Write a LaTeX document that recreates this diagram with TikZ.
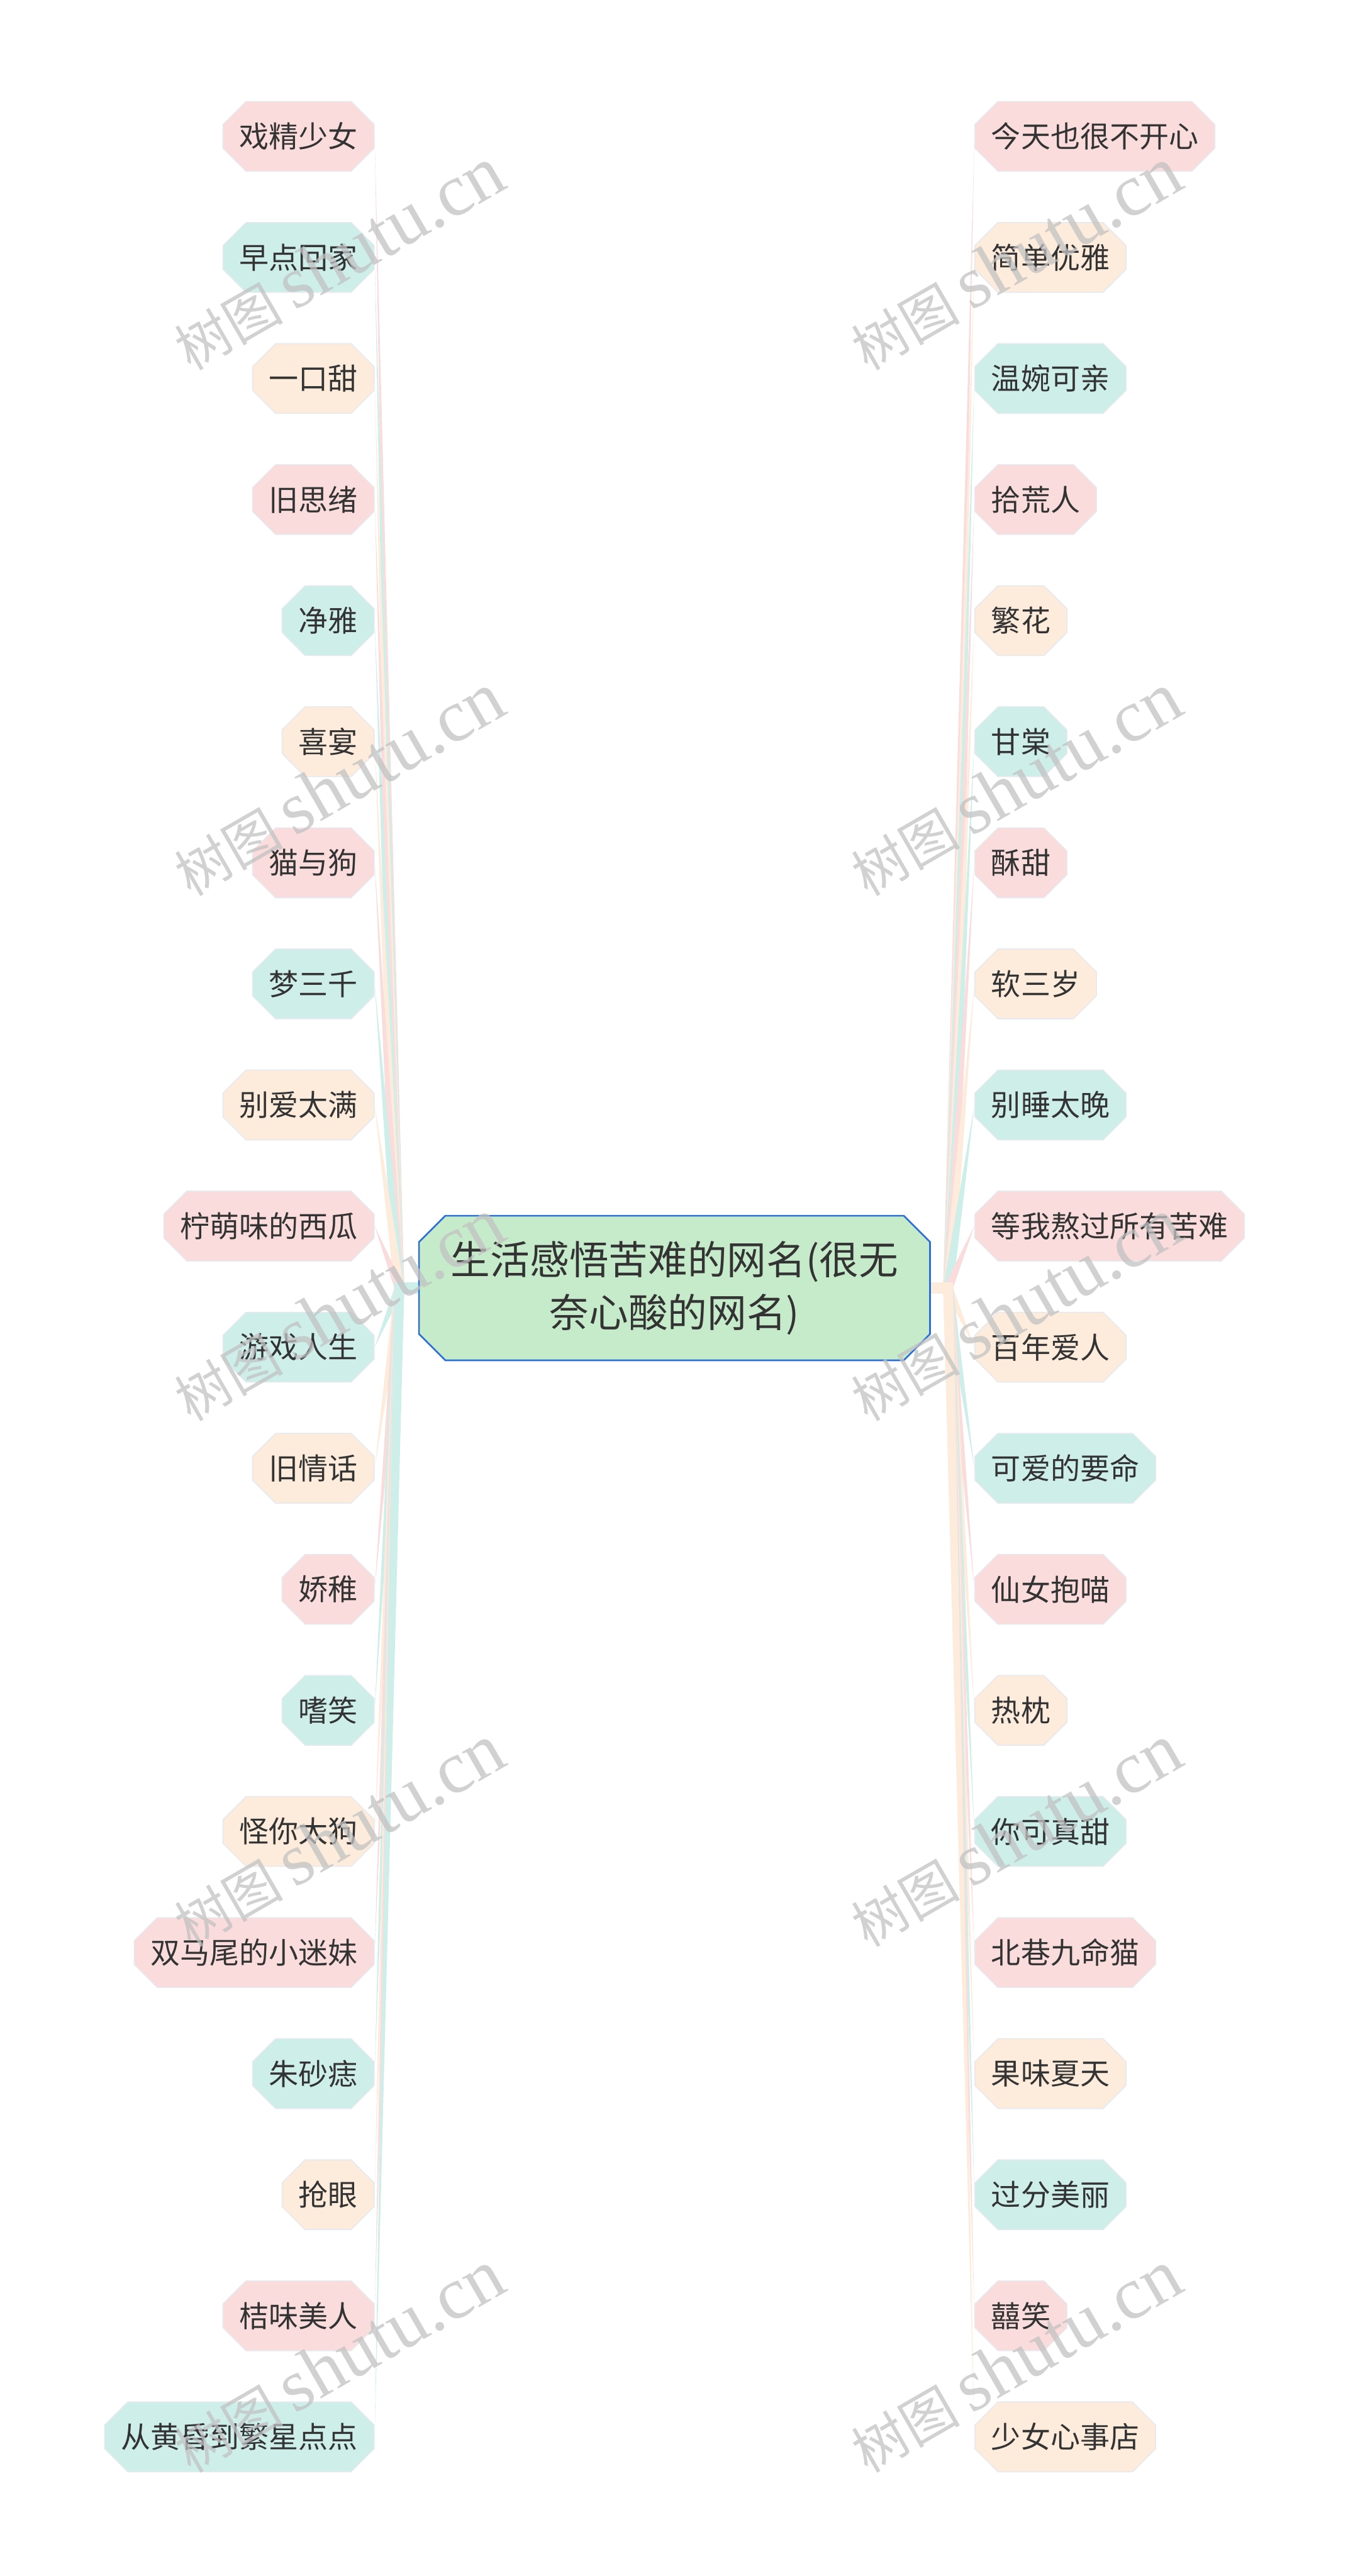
\documentclass[tikz,border=0pt]{standalone}
\usepackage{fontspec}
\setmainfont{Noto Sans CJK SC}
\newfontfamily\stampfont{Liberation Serif}
\usepackage{tikz}
\usetikzlibrary{positioning}
\usetikzlibrary{calc,backgrounds}
\usetikzlibrary{shapes.misc}

\definecolor{PinkLeaf}{HTML}{FBDCDC}
\definecolor{TealLeaf}{HTML}{CDEEE9}
\definecolor{PeachLeaf}{HTML}{FDEBDC}
\definecolor{LeafLine}{HTML}{E6E9EF}
\definecolor{RootFill}{HTML}{C6EBCA}
\definecolor{RootLine}{HTML}{2E6FD6}
\definecolor{InkText}{HTML}{333333}
\definecolor{StampGray}{HTML}{C2C2C2}

\newcommand{\twig}[3]{\fill[#1] ($(#2)+(-3pt,0)$) -- ($(#2)+(3pt,0)$) -- (#3) -- cycle;}
\newcommand{\stamptext}{{\fontsize{33}{33}\selectfont 树图}\hspace{7pt}{\stampfont\fontsize{45}{45}\selectfont shutu.cn}}

\tikzset{
  leaf/.style={chamfered rectangle, chamfered rectangle xsep=7pt,
    chamfered rectangle ysep=7pt, fill=#1, draw=LeafLine, line width=0.6pt,
    text=InkText, font=\fontsize{18}{22}\selectfont,
    inner xsep=3pt, inner ysep=0pt, minimum height=42.5pt},
  rootbox/.style={chamfered rectangle, chamfered rectangle xsep=8pt,
    chamfered rectangle ysep=8pt, fill=RootFill, draw=RootLine, line width=1pt,
    text=InkText, font=\fontsize{24}{32}\selectfont, align=center,
    minimum width=311pt, minimum height=88pt},
  stamp/.style={rotate=30, anchor=base west, text=StampGray, opacity=0.75,
    inner sep=0pt}
}

\begin{document}
\begin{tikzpicture}[x=1pt,y=1pt]
    \useasboundingbox (0,0) rectangle (820,-1568);

    %Root
    \node[rootbox] (Root) at (410.5,-784) {生活感悟苦难的网名(很无\\奈心酸的网名)};
    \coordinate[left = 11.5pt of Root.west] (HubL);
    \coordinate[right = 10.5pt of Root.east] (HubR);

    %-------------------------------------------
    %Left leaves
    \node[leaf=PinkLeaf, anchor=east] (L1) at (228,-83) {戏精少女};
    \node[leaf=TealLeaf, below = 73.7pt of L1.east, anchor=east] (L2) {早点回家};
    \node[leaf=PeachLeaf, below = 73.7pt of L2.east, anchor=east] (L3) {一口甜};
    \node[leaf=PinkLeaf, below = 73.7pt of L3.east, anchor=east] (L4) {旧思绪};
    \node[leaf=TealLeaf, below = 73.7pt of L4.east, anchor=east] (L5) {净雅};
    \node[leaf=PeachLeaf, below = 73.7pt of L5.east, anchor=east] (L6) {喜宴};
    \node[leaf=PinkLeaf, below = 73.7pt of L6.east, anchor=east] (L7) {猫与狗};
    \node[leaf=TealLeaf, below = 73.7pt of L7.east, anchor=east] (L8) {梦三千};
    \node[leaf=PeachLeaf, below = 73.7pt of L8.east, anchor=east] (L9) {别爱太满};
    \node[leaf=PinkLeaf, below = 73.7pt of L9.east, anchor=east] (L10) {柠萌味的西瓜};
    \node[leaf=TealLeaf, below = 73.7pt of L10.east, anchor=east] (L11) {游戏人生};
    \node[leaf=PeachLeaf, below = 73.7pt of L11.east, anchor=east] (L12) {旧情话};
    \node[leaf=PinkLeaf, below = 73.7pt of L12.east, anchor=east] (L13) {娇稚};
    \node[leaf=TealLeaf, below = 73.7pt of L13.east, anchor=east] (L14) {嗜笑};
    \node[leaf=PeachLeaf, below = 73.7pt of L14.east, anchor=east] (L15) {怪你太狗};
    \node[leaf=PinkLeaf, below = 73.7pt of L15.east, anchor=east] (L16) {双马尾的小迷妹};
    \node[leaf=TealLeaf, below = 73.7pt of L16.east, anchor=east] (L17) {朱砂痣};
    \node[leaf=PeachLeaf, below = 73.7pt of L17.east, anchor=east] (L18) {抢眼};
    \node[leaf=PinkLeaf, below = 73.7pt of L18.east, anchor=east] (L19) {桔味美人};
    \node[leaf=TealLeaf, below = 73.7pt of L19.east, anchor=east] (L20) {从黄昏到繁星点点};

    %-------------------------------------------
    %Right leaves
    \node[leaf=PinkLeaf, anchor=west] (R1) at (593,-83) {今天也很不开心};
    \node[leaf=PeachLeaf, below = 73.7pt of R1.west, anchor=west] (R2) {简单优雅};
    \node[leaf=TealLeaf, below = 73.7pt of R2.west, anchor=west] (R3) {温婉可亲};
    \node[leaf=PinkLeaf, below = 73.7pt of R3.west, anchor=west] (R4) {拾荒人};
    \node[leaf=PeachLeaf, below = 73.7pt of R4.west, anchor=west] (R5) {繁花};
    \node[leaf=TealLeaf, below = 73.7pt of R5.west, anchor=west] (R6) {甘棠};
    \node[leaf=PinkLeaf, below = 73.7pt of R6.west, anchor=west] (R7) {酥甜};
    \node[leaf=PeachLeaf, below = 73.7pt of R7.west, anchor=west] (R8) {软三岁};
    \node[leaf=TealLeaf, below = 73.7pt of R8.west, anchor=west] (R9) {别睡太晚};
    \node[leaf=PinkLeaf, below = 73.7pt of R9.west, anchor=west] (R10) {等我熬过所有苦难};
    \node[leaf=PeachLeaf, below = 73.7pt of R10.west, anchor=west] (R11) {百年爱人};
    \node[leaf=TealLeaf, below = 73.7pt of R11.west, anchor=west] (R12) {可爱的要命};
    \node[leaf=PinkLeaf, below = 73.7pt of R12.west, anchor=west] (R13) {仙女抱喵};
    \node[leaf=PeachLeaf, below = 73.7pt of R13.west, anchor=west] (R14) {热枕};
    \node[leaf=TealLeaf, below = 73.7pt of R14.west, anchor=west] (R15) {你可真甜};
    \node[leaf=PinkLeaf, below = 73.7pt of R15.west, anchor=west] (R16) {北巷九命猫};
    \node[leaf=PeachLeaf, below = 73.7pt of R16.west, anchor=west] (R17) {果味夏天};
    \node[leaf=TealLeaf, below = 73.7pt of R17.west, anchor=west] (R18) {过分美丽};
    \node[leaf=PinkLeaf, below = 73.7pt of R18.west, anchor=west] (R19) {囍笑};
    \node[leaf=PeachLeaf, below = 73.7pt of R19.west, anchor=west] (R20) {少女心事店};

    %-------------------------------------------
    %Branches (behind the boxes)
    \begin{scope}[on background layer]
    \twig{PinkLeaf}{HubL}{L1.east}
    \twig{TealLeaf}{HubL}{L2.east}
    \twig{PeachLeaf}{HubL}{L3.east}
    \twig{PinkLeaf}{HubL}{L4.east}
    \twig{TealLeaf}{HubL}{L5.east}
    \twig{PeachLeaf}{HubL}{L6.east}
    \twig{PinkLeaf}{HubL}{L7.east}
    \twig{TealLeaf}{HubL}{L8.east}
    \twig{PeachLeaf}{HubL}{L9.east}
    \twig{PinkLeaf}{HubL}{L10.east}
    \twig{TealLeaf}{HubL}{L11.east}
    \twig{PeachLeaf}{HubL}{L12.east}
    \twig{PinkLeaf}{HubL}{L13.east}
    \twig{TealLeaf}{HubL}{L14.east}
    \twig{PeachLeaf}{HubL}{L15.east}
    \twig{PinkLeaf}{HubL}{L16.east}
    \twig{TealLeaf}{HubL}{L17.east}
    \twig{PeachLeaf}{HubL}{L18.east}
    \twig{PinkLeaf}{HubL}{L19.east}
    \twig{TealLeaf}{HubL}{L20.east}
    \fill[TealLeaf] ($(HubL)+(-3pt,-3.5pt)$) rectangle ($(Root.west)+(0,3.5pt)$);

    \twig{PinkLeaf}{HubR}{R1.west}
    \twig{PeachLeaf}{HubR}{R2.west}
    \twig{TealLeaf}{HubR}{R3.west}
    \twig{PinkLeaf}{HubR}{R4.west}
    \twig{PeachLeaf}{HubR}{R5.west}
    \twig{TealLeaf}{HubR}{R6.west}
    \twig{PinkLeaf}{HubR}{R7.west}
    \twig{PeachLeaf}{HubR}{R8.west}
    \twig{TealLeaf}{HubR}{R9.west}
    \twig{PinkLeaf}{HubR}{R10.west}
    \twig{PeachLeaf}{HubR}{R11.west}
    \twig{TealLeaf}{HubR}{R12.west}
    \twig{PinkLeaf}{HubR}{R13.west}
    \twig{PeachLeaf}{HubR}{R14.west}
    \twig{TealLeaf}{HubR}{R15.west}
    \twig{PinkLeaf}{HubR}{R16.west}
    \twig{PeachLeaf}{HubR}{R17.west}
    \twig{TealLeaf}{HubR}{R18.west}
    \twig{PinkLeaf}{HubR}{R19.west}
    \twig{PeachLeaf}{HubR}{R20.west}
    \fill[PeachLeaf] ($(Root.east)+(0,-3.5pt)$) rectangle ($(HubR)+(3pt,3.5pt)$);
    \end{scope}

    %-------------------------------------------
    %Watermarks
    \node[stamp] (StampL1) at (116,-226) {\stamptext};
    \node[stamp] (StampL2) at (116,-546) {\stamptext};
    \node[stamp] (StampL3) at (116,-866) {\stamptext};
    \node[stamp] (StampL4) at (116,-1186) {\stamptext};
    \node[stamp] (StampL5) at (116,-1506) {\stamptext};
    \node[stamp] (StampR1) at (528,-226) {\stamptext};
    \node[stamp] (StampR2) at (528,-546) {\stamptext};
    \node[stamp] (StampR3) at (528,-866) {\stamptext};
    \node[stamp] (StampR4) at (528,-1186) {\stamptext};
    \node[stamp] (StampR5) at (528,-1506) {\stamptext};

\end{tikzpicture}
\end{document}
